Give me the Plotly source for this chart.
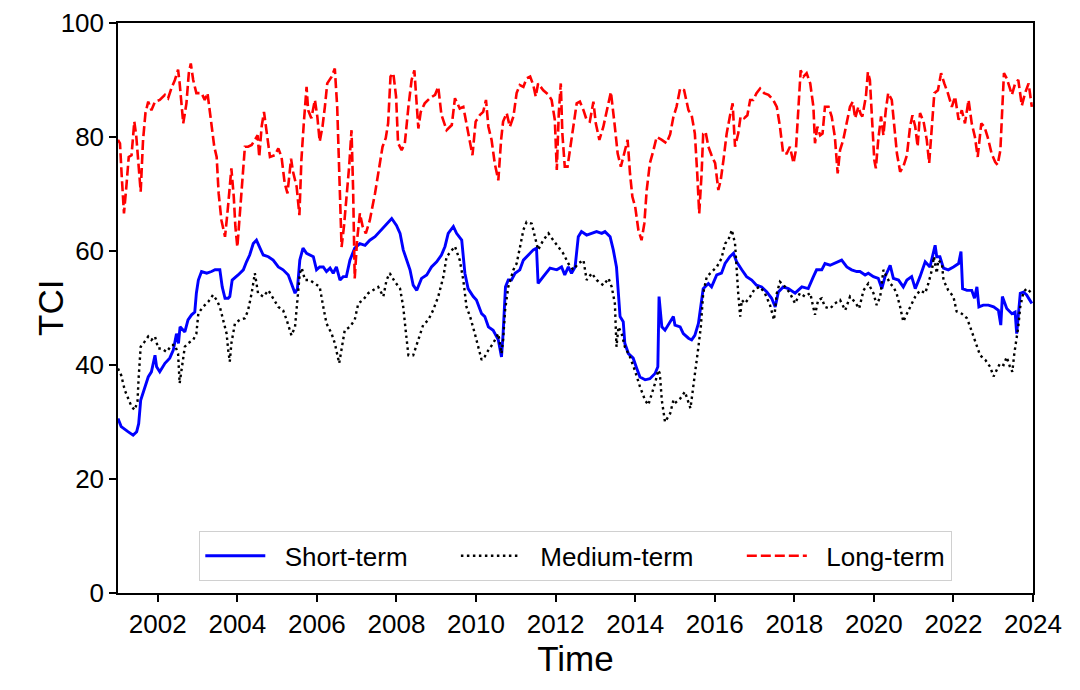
import plotly.graph_objects as go

# ---------------- data (decimal years, TCI values) ----------------
short_t = [2001.00, 2001.08, 2001.25, 2001.38, 2001.47, 2001.52, 2001.57, 2001.67, 2001.76, 2001.84,
           2001.93, 2001.97, 2002.05, 2002.18, 2002.30, 2002.39, 2002.47, 2002.52, 2002.56, 2002.68,
           2002.76, 2002.85, 2002.93, 2002.97, 2003.02, 2003.10, 2003.23, 2003.35, 2003.44, 2003.56,
           2003.62, 2003.69, 2003.77, 2003.81, 2003.87, 2004.02, 2004.15, 2004.23, 2004.31, 2004.40,
           2004.48, 2004.57, 2004.65, 2004.78, 2004.90, 2005.03, 2005.15, 2005.28, 2005.36, 2005.45,
           2005.51, 2005.57, 2005.65, 2005.74, 2005.91, 2005.99, 2006.07, 2006.16, 2006.24, 2006.33,
           2006.41, 2006.49, 2006.58, 2006.66, 2006.74, 2006.83, 2006.95, 2007.08, 2007.21, 2007.33,
           2007.46, 2007.58, 2007.71, 2007.79, 2007.88, 2008.00, 2008.09, 2008.17, 2008.25, 2008.34,
           2008.42, 2008.51, 2008.63, 2008.76, 2008.88, 2009.01, 2009.13, 2009.22, 2009.30, 2009.43,
           2009.51, 2009.64, 2009.72, 2009.80, 2009.93, 2010.01, 2010.14, 2010.22, 2010.31, 2010.43,
           2010.56, 2010.64, 2010.68, 2010.74, 2010.81, 2010.89, 2010.98, 2011.10, 2011.19, 2011.31,
           2011.44, 2011.52, 2011.56, 2011.69, 2011.86, 2012.03, 2012.15, 2012.23, 2012.32, 2012.40,
           2012.49, 2012.57, 2012.65, 2012.78, 2012.91, 2013.03, 2013.16, 2013.24, 2013.37, 2013.45,
           2013.53, 2013.58, 2013.62, 2013.70, 2013.74, 2013.83, 2013.95, 2014.04, 2014.12, 2014.25,
           2014.37, 2014.50, 2014.57, 2014.60, 2014.67, 2014.75, 2014.88, 2014.96, 2015.00, 2015.13,
           2015.21, 2015.34, 2015.42, 2015.50, 2015.59, 2015.67, 2015.71, 2015.84, 2015.92, 2016.05,
           2016.17, 2016.26, 2016.38, 2016.47, 2016.55, 2016.68, 2016.80, 2016.93, 2017.05, 2017.18,
           2017.31, 2017.43, 2017.52, 2017.60, 2017.72, 2017.85, 2018.02, 2018.19, 2018.35, 2018.48,
           2018.56, 2018.69, 2018.77, 2018.90, 2019.07, 2019.19, 2019.32, 2019.44, 2019.57, 2019.65,
           2019.78, 2019.86, 2019.99, 2020.11, 2020.20, 2020.28, 2020.36, 2020.41, 2020.49, 2020.62,
           2020.74, 2020.83, 2020.95, 2021.04, 2021.16, 2021.29, 2021.41, 2021.50, 2021.54, 2021.58,
           2021.66, 2021.75, 2021.87, 2022.00, 2022.13, 2022.19, 2022.23, 2022.34, 2022.46, 2022.53,
           2022.59, 2022.64, 2022.75, 2022.88, 2023.01, 2023.13, 2023.19, 2023.23, 2023.34, 2023.47,
           2023.55, 2023.59, 2023.63, 2023.68, 2023.76, 2023.84, 2023.97]
short_v = [30.6, 29.2, 28.3, 27.7, 28.3, 29.7, 33.8, 36.2, 37.9, 38.8,
           41.7, 39.7, 38.8, 40.3, 41.2, 42.6, 45.5, 43.8, 46.7, 45.8,
           47.9, 48.8, 49.3, 52.6, 54.9, 56.4, 56.1, 56.4, 56.7, 56.7,
           53.7, 51.7, 51.7, 52.0, 54.9, 55.8, 56.7, 58.1, 59.3, 61.3,
           61.9, 60.5, 59.3, 59.0, 58.4, 57.2, 56.7, 55.8, 54.3, 52.6,
           53.4, 58.4, 60.5, 59.6, 59.0, 56.7, 57.2, 57.2, 56.4, 57.0,
           56.1, 57.2, 54.9, 55.5, 55.5, 58.4, 60.5, 61.3, 61.0, 61.9,
           62.5, 63.4, 64.5, 65.1, 65.7, 64.5, 63.1, 60.2, 58.4, 56.7,
           54.0, 53.1, 55.2, 55.8, 57.2, 58.1, 59.3, 60.8, 63.1, 64.3,
           63.1, 61.9, 56.1, 53.4, 52.0, 51.4, 49.0, 48.5, 46.7, 46.1,
           44.4, 41.4, 45.5, 53.7, 54.9, 54.9, 56.1, 56.7, 58.4, 59.3,
           60.2, 60.5, 54.3, 55.5, 57.0, 56.7, 57.2, 55.8, 57.2, 56.1,
           57.2, 62.5, 63.4, 62.8, 63.1, 63.4, 63.1, 63.4, 62.5, 60.2,
           57.2, 52.0, 48.5, 47.6, 43.8, 42.0, 41.2, 39.4, 37.9, 37.4,
           37.6, 38.5, 39.7, 52.0, 46.7, 46.1, 47.6, 48.5, 47.0, 46.7,
           45.5, 44.7, 44.4, 45.2, 47.3, 52.0, 53.4, 54.3, 53.7, 55.8,
           56.1, 57.8, 59.0, 59.6, 58.1, 56.7, 55.5, 54.9, 54.0, 53.7,
           52.8, 51.7, 50.2, 52.8, 53.7, 53.4, 52.6, 53.7, 53.4, 55.5,
           56.7, 56.7, 57.8, 57.5, 58.1, 58.4, 57.2, 56.7, 56.4, 56.4,
           55.8, 56.1, 55.5, 55.2, 53.4, 55.5, 56.7, 57.5, 55.2, 54.9,
           53.7, 54.9, 55.5, 53.4, 55.5, 58.1, 57.2, 59.6, 61.0, 59.0,
           59.0, 57.0, 56.7, 57.2, 57.8, 59.9, 53.4, 53.1, 53.1, 51.7,
           53.7, 50.2, 50.5, 50.5, 50.2, 49.6, 47.0, 52.0, 49.9, 49.0,
           49.3, 45.5, 49.0, 52.6, 52.8, 52.3, 50.8]

medium_t = [2001.00, 2001.08, 2001.17, 2001.25, 2001.34, 2001.42, 2001.49, 2001.52, 2001.57, 2001.67,
            2001.76, 2001.84, 2001.93, 2002.01, 2002.09, 2002.22, 2002.35, 2002.43, 2002.51, 2002.55,
            2002.60, 2002.68, 2002.76, 2002.89, 2002.97, 2003.02, 2003.14, 2003.27, 2003.39, 2003.48,
            2003.56, 2003.64, 2003.73, 2003.77, 2003.81, 2003.85, 2003.94, 2004.06, 2004.19, 2004.27,
            2004.36, 2004.44, 2004.52, 2004.65, 2004.78, 2004.90, 2005.03, 2005.15, 2005.24, 2005.36,
            2005.45, 2005.51, 2005.57, 2005.62, 2005.70, 2005.82, 2005.95, 2006.07, 2006.16, 2006.24,
            2006.37, 2006.45, 2006.56, 2006.62, 2006.70, 2006.83, 2006.95, 2007.04, 2007.16, 2007.29,
            2007.42, 2007.54, 2007.67, 2007.75, 2007.83, 2007.96, 2008.09, 2008.17, 2008.24, 2008.30,
            2008.42, 2008.55, 2008.67, 2008.80, 2008.92, 2009.05, 2009.18, 2009.26, 2009.39, 2009.47,
            2009.59, 2009.68, 2009.76, 2009.85, 2009.97, 2010.06, 2010.14, 2010.22, 2010.31, 2010.43,
            2010.56, 2010.64, 2010.68, 2010.73, 2010.81, 2010.94, 2011.02, 2011.10, 2011.19, 2011.27,
            2011.40, 2011.48, 2011.56, 2011.69, 2011.82, 2011.94, 2012.07, 2012.19, 2012.32, 2012.44,
            2012.57, 2012.70, 2012.78, 2012.91, 2013.03, 2013.20, 2013.33, 2013.41, 2013.49, 2013.53,
            2013.58, 2013.66, 2013.74, 2013.87, 2013.99, 2014.12, 2014.25, 2014.33, 2014.42, 2014.50,
            2014.58, 2014.62, 2014.67, 2014.75, 2014.88, 2014.96, 2015.00, 2015.13, 2015.25, 2015.34,
            2015.39, 2015.46, 2015.53, 2015.59, 2015.65, 2015.71, 2015.80, 2015.92, 2016.05, 2016.17,
            2016.26, 2016.34, 2016.43, 2016.51, 2016.55, 2016.59, 2016.64, 2016.68, 2016.76, 2016.89,
            2017.01, 2017.14, 2017.26, 2017.39, 2017.49, 2017.56, 2017.64, 2017.77, 2017.89, 2018.02,
            2018.14, 2018.27, 2018.40, 2018.52, 2018.60, 2018.69, 2018.77, 2018.90, 2019.02, 2019.15,
            2019.28, 2019.40, 2019.53, 2019.63, 2019.74, 2019.86, 2019.99, 2020.07, 2020.16, 2020.24,
            2020.32, 2020.41, 2020.49, 2020.57, 2020.66, 2020.74, 2020.83, 2020.95, 2021.04, 2021.16,
            2021.29, 2021.37, 2021.46, 2021.51, 2021.58, 2021.62, 2021.71, 2021.75, 2021.87, 2022.00,
            2022.08, 2022.21, 2022.34, 2022.42, 2022.50, 2022.59, 2022.67, 2022.80, 2022.92, 2023.01,
            2023.09, 2023.17, 2023.26, 2023.34, 2023.42, 2023.48, 2023.53, 2023.59, 2023.63, 2023.68,
            2023.76, 2023.84, 2023.97]
medium_v = [39.4, 38.2, 35.6, 34.1, 32.7, 32.1, 33.6, 37.9, 43.2, 44.1,
            45.0, 44.4, 45.0, 42.9, 42.9, 42.3, 43.5, 43.5, 42.0, 36.8,
            39.4, 43.2, 43.8, 44.4, 45.5, 49.1, 50.2, 51.1, 52.3, 51.4,
            50.2, 47.9, 45.5, 42.6, 40.6, 43.8, 47.3, 47.9, 48.2, 49.6,
            52.6, 56.1, 52.6, 52.0, 53.1, 51.7, 50.2, 49.6, 47.9, 45.2,
            46.7, 51.4, 56.1, 57.0, 54.9, 54.9, 54.3, 53.7, 50.2, 47.3,
            45.5, 43.8, 40.3, 42.6, 46.1, 46.7, 47.9, 50.8, 51.4, 52.6,
            53.1, 53.7, 52.0, 54.9, 56.1, 54.6, 53.4, 50.2, 45.5, 41.7,
            41.7, 44.4, 47.0, 47.9, 49.6, 52.0, 55.5, 59.0, 60.2, 60.8,
            58.4, 54.9, 50.2, 48.5, 45.5, 43.2, 40.9, 41.5, 42.6, 43.8,
            45.5, 42.0, 44.4, 49.6, 53.7, 56.7, 57.8, 60.5, 63.7, 65.1,
            64.8, 62.5, 60.2, 61.9, 63.1, 61.9, 60.8, 59.6, 57.8, 56.7,
            57.8, 58.4, 54.9, 56.1, 54.9, 54.0, 55.2, 53.7, 50.8, 43.2,
            46.7, 45.5, 43.2, 41.4, 39.1, 36.2, 33.8, 33.0, 35.0, 36.8,
            39.1, 38.5, 33.8, 30.0, 31.5, 33.8, 33.3, 34.1, 35.3, 33.3,
            32.4, 36.2, 39.7, 43.2, 46.7, 52.6, 55.5, 56.4, 57.2, 58.7,
            61.3, 61.9, 63.7, 61.3, 56.1, 52.6, 48.5, 51.4, 50.8, 52.0,
            53.4, 53.7, 52.6, 50.5, 47.9, 52.6, 54.6, 53.7, 52.6, 50.8,
            52.6, 52.0, 52.6, 48.8, 51.4, 51.7, 50.2, 49.9, 50.8, 51.4,
            49.6, 52.0, 51.0, 49.9, 53.1, 54.3, 52.6, 50.5, 52.0, 56.7,
            55.5, 54.3, 53.7, 52.6, 50.2, 47.6, 49.0, 50.8, 52.0, 53.1,
            52.6, 54.3, 56.7, 59.0, 56.1, 58.4, 57.8, 54.9, 53.1, 52.0,
            49.4, 49.0, 48.2, 46.7, 45.2, 43.2, 41.7, 40.9, 39.7, 38.0,
            39.1, 40.3, 40.0, 41.4, 39.7, 38.8, 42.0, 44.4, 46.7, 50.2,
            52.8, 53.4, 52.6]

long_t = [2001.00, 2001.05, 2001.09, 2001.15, 2001.21, 2001.27, 2001.34, 2001.41, 2001.46, 2001.51,
          2001.57, 2001.63, 2001.69, 2001.76, 2001.84, 2001.93, 2002.05, 2002.18, 2002.26, 2002.34,
          2002.43, 2002.51, 2002.55, 2002.64, 2002.72, 2002.78, 2002.83, 2002.89, 2002.97, 2003.10,
          2003.18, 2003.25, 2003.33, 2003.42, 2003.48, 2003.53, 2003.60, 2003.69, 2003.75, 2003.81,
          2003.85, 2003.91, 2003.95, 2004.00, 2004.06, 2004.12, 2004.19, 2004.27, 2004.36, 2004.44,
          2004.51, 2004.55, 2004.61, 2004.67, 2004.73, 2004.82, 2004.94, 2005.03, 2005.11, 2005.19,
          2005.26, 2005.35, 2005.40, 2005.49, 2005.56, 2005.61, 2005.67, 2005.74, 2005.78, 2005.86,
          2005.95, 2006.01, 2006.07, 2006.14, 2006.20, 2006.26, 2006.37, 2006.45, 2006.51, 2006.56,
          2006.62, 2006.68, 2006.74, 2006.81, 2006.87, 2006.91, 2006.95, 2007.01, 2007.08, 2007.15,
          2007.23, 2007.33, 2007.46, 2007.54, 2007.65, 2007.73, 2007.79, 2007.85, 2007.92, 2007.99,
          2008.04, 2008.13, 2008.21, 2008.30, 2008.38, 2008.45, 2008.49, 2008.55, 2008.61, 2008.71,
          2008.84, 2008.97, 2009.05, 2009.13, 2009.26, 2009.39, 2009.47, 2009.59, 2009.68, 2009.76,
          2009.85, 2009.91, 2009.99, 2010.10, 2010.18, 2010.25, 2010.31, 2010.39, 2010.47, 2010.56,
          2010.63, 2010.68, 2010.77, 2010.85, 2010.94, 2011.02, 2011.10, 2011.19, 2011.27, 2011.36,
          2011.44, 2011.50, 2011.56, 2011.69, 2011.82, 2011.90, 2011.98, 2012.03, 2012.08, 2012.13,
          2012.17, 2012.23, 2012.30, 2012.39, 2012.45, 2012.53, 2012.61, 2012.70, 2012.78, 2012.86,
          2012.95, 2013.01, 2013.10, 2013.20, 2013.28, 2013.39, 2013.48, 2013.56, 2013.64, 2013.73,
          2013.81, 2013.87, 2013.93, 2014.00, 2014.08, 2014.16, 2014.23, 2014.29, 2014.37, 2014.46,
          2014.54, 2014.67, 2014.79, 2014.88, 2014.96, 2015.04, 2015.13, 2015.23, 2015.34, 2015.42,
          2015.50, 2015.56, 2015.61, 2015.67, 2015.71, 2015.77, 2015.84, 2015.92, 2016.01, 2016.09,
          2016.15, 2016.22, 2016.30, 2016.38, 2016.45, 2016.51, 2016.59, 2016.65, 2016.74, 2016.82,
          2016.89, 2016.97, 2017.05, 2017.14, 2017.24, 2017.35, 2017.47, 2017.56, 2017.64, 2017.72,
          2017.81, 2017.89, 2017.98, 2018.04, 2018.10, 2018.16, 2018.23, 2018.31, 2018.40, 2018.48,
          2018.52, 2018.58, 2018.65, 2018.71, 2018.77, 2018.86, 2018.94, 2019.02, 2019.09, 2019.15,
          2019.23, 2019.32, 2019.40, 2019.47, 2019.53, 2019.61, 2019.67, 2019.71, 2019.80, 2019.85,
          2019.90, 2019.96, 2020.01, 2020.05, 2020.11, 2020.18, 2020.24, 2020.30, 2020.36, 2020.45,
          2020.52, 2020.58, 2020.66, 2020.74, 2020.83, 2020.91, 2020.97, 2021.04, 2021.10, 2021.16,
          2021.25, 2021.33, 2021.39, 2021.46, 2021.52, 2021.61, 2021.69, 2021.77, 2021.86, 2021.96,
          2022.04, 2022.13, 2022.21, 2022.29, 2022.38, 2022.46, 2022.54, 2022.61, 2022.70, 2022.78,
          2022.86, 2022.96, 2023.05, 2023.11, 2023.18, 2023.23, 2023.27, 2023.34, 2023.40, 2023.47,
          2023.55, 2023.63, 2023.72, 2023.80, 2023.89, 2023.97]
long_v = [79.5, 78.9, 73.6, 66.6, 71.3, 76.5, 76.8, 82.7, 80.1, 76.0,
          70.4, 79.5, 84.2, 86.2, 84.7, 86.2, 86.5, 87.4, 86.8, 88.5,
          90.0, 91.8, 89.4, 82.4, 85.9, 91.2, 92.9, 90.0, 87.7, 87.7,
          86.5, 87.7, 83.6, 78.3, 76.5, 70.1, 65.4, 62.5, 66.6, 71.3,
          74.5, 69.5, 64.3, 60.7, 66.0, 72.4, 78.3, 78.3, 78.6, 79.5,
          80.3, 76.5, 81.8, 84.4, 81.2, 76.5, 76.8, 78.0, 76.5, 71.9,
          70.1, 76.2, 73.9, 71.3, 66.3, 76.0, 82.4, 88.8, 84.7, 83.3,
          86.5, 83.6, 79.2, 81.8, 85.3, 89.4, 90.6, 92.0, 85.3, 73.6,
          60.7, 64.3, 68.9, 74.8, 81.2, 70.7, 55.2, 61.9, 66.6, 64.3,
          63.1, 65.4, 70.1, 73.6, 78.3, 79.8, 82.4, 90.6, 91.2, 87.1,
          78.9, 77.7, 78.9, 85.3, 90.0, 91.7, 88.2, 81.5, 84.4, 85.9,
          86.8, 87.4, 88.8, 83.9, 81.2, 82.1, 86.8, 85.0, 85.3, 82.4,
          79.5, 76.8, 82.7, 83.9, 84.4, 86.5, 81.8, 79.5, 75.4, 72.4,
          79.5, 82.7, 84.2, 81.8, 83.6, 87.7, 89.1, 88.8, 90.3, 90.6,
          89.1, 87.1, 89.4, 88.2, 87.4, 86.5, 83.0, 74.2, 84.2, 89.4,
          80.6, 74.8, 74.8, 78.9, 82.4, 85.9, 86.2, 84.7, 83.0, 82.7,
          86.2, 82.4, 79.5, 81.8, 84.4, 87.9, 82.4, 77.1, 74.8, 77.1,
          79.5, 73.6, 69.5, 67.8, 63.7, 61.9, 64.8, 70.7, 75.4, 77.7,
          80.0, 79.5, 78.9, 80.5, 83.5, 85.3, 88.5, 88.2, 84.7, 83.8,
          80.6, 73.6, 66.6, 73.6, 80.6, 80.9, 78.3, 76.8, 75.4, 70.7,
          72.4, 76.0, 80.6, 83.6, 85.9, 78.3, 80.6, 83.6, 83.3, 83.8,
          86.5, 86.5, 87.7, 88.5, 87.7, 87.4, 86.5, 85.3, 81.8, 77.1,
          77.1, 78.3, 75.4, 77.7, 85.3, 91.7, 90.6, 91.2, 89.4, 85.3,
          78.9, 81.8, 80.3, 80.6, 85.3, 85.3, 83.6, 80.0, 73.6, 77.7,
          79.5, 82.4, 85.3, 86.2, 83.3, 85.3, 84.0, 83.6, 87.1, 91.4,
          90.0, 82.4, 76.0, 74.5, 79.5, 83.6, 80.3, 84.7, 87.7, 86.5,
          81.8, 77.1, 73.9, 74.8, 76.8, 81.8, 83.8, 81.8, 78.3, 84.2,
          82.7, 79.5, 75.4, 83.0, 87.7, 88.2, 91.2, 89.4, 87.7, 85.3,
          87.1, 83.0, 84.7, 82.4, 86.5, 82.4, 80.0, 76.5, 82.4, 81.8,
          80.0, 77.1, 75.6, 75.1, 77.7, 85.3, 91.2, 90.3, 88.8, 87.4,
          89.4, 90.0, 85.5, 87.7, 89.4, 85.3]

x_ticks = [2002, 2004, 2006, 2008, 2010, 2012, 2014, 2016, 2018, 2020, 2022, 2024]
y_ticks = [0, 20, 40, 60, 80, 100]
series_names = ["Short-term", "Medium-term", "Long-term"]

FONT = "Liberation Sans, Arial, Helvetica, sans-serif"
NB = "\u00a0"

# legend labels padded with non-breaking spaces to mimic matplotlib spacing
legend_labels = [NB * 2 + series_names[0] + NB * 6,
                 NB * 2 + series_names[1] + NB * 6,
                 NB * 2 + series_names[2]]

fig = go.Figure()
fig.add_trace(go.Scatter(x=short_t, y=short_v, mode="lines", name=legend_labels[0],
                         line=dict(color="#0000ff", width=2.9)))
fig.add_trace(go.Scatter(x=medium_t, y=medium_v, mode="lines", name=legend_labels[1],
                         line=dict(color="#000000", width=2.4, dash="2.5px,3.5px")))
fig.add_trace(go.Scatter(x=long_t, y=long_v, mode="lines", name=legend_labels[2],
                         line=dict(color="#ff0000", width=2.6, dash="10px,4px")))

axis_common = dict(showline=True, linecolor="black", linewidth=1.5, mirror=True,
                   ticks="outside", ticklen=7, tickwidth=1.5, tickcolor="black",
                   showgrid=False, zeroline=False, automargin=False,
                   tickfont=dict(family=FONT, size=26, color="black"))

fig.update_xaxes(range=[2001, 2024], tickmode="array", tickvals=x_ticks,
                 ticktext=[str(v) for v in x_ticks],
                 title=dict(text="Time", font=dict(family=FONT, size=35, color="black"), standoff=3),
                 **axis_common)
fig.update_yaxes(range=[0, 100], tickmode="array", tickvals=y_ticks, **axis_common)

fig.add_annotation(text="TCI", xref="paper", yref="paper", x=0, y=0.5,
                   xshift=-68, xanchor="center", yanchor="middle", textangle=-90,
                   showarrow=False, font=dict(family=FONT, size=35, color="black"))

fig.update_layout(
    width=1072, height=682,
    margin=dict(l=110, r=47, t=15, b=97),
    paper_bgcolor="white", plot_bgcolor="white",
    font=dict(family=FONT, color="black"),
    showlegend=True,
    legend=dict(orientation="h", x=0.5, xanchor="center", y=0.021, yanchor="bottom",
                bgcolor="rgba(255,255,255,0.9)", bordercolor="#d0d0d0", borderwidth=1.3,
                font=dict(family=FONT, size=26, color="black"),
                itemwidth=60, traceorder="normal"),
)

fig.write_html("out.html")
